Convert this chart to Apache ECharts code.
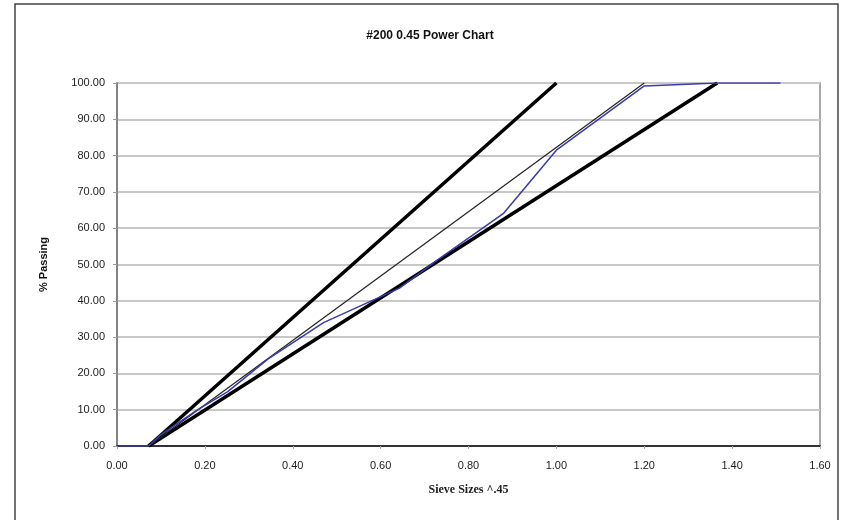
<!DOCTYPE html>
<html>
<head>
<meta charset="utf-8">
<script src="https://cdn.jsdelivr.net/npm/echarts@6/dist/echarts.min.js"></script>
<style>
  html, body { margin: 0; padding: 0; background: #fff; }
  #chart { width: 843px; height: 520px; }
</style>
</head>
<body>
<div id="chart"></div>
<script>
// sieve sizes (in) raised to 0.45
var sieveX = [0, 0.072, 0.099, 0.135, 0.184, 0.252, 0.344, 0.470, 0.643, 0.732, 0.879, 1.000, 1.200, 1.366, 1.510];
// % passing of the gradation (blue)
var passing = [0, 0, 3, 6, 10, 15, 24, 34, 43.5, 51.5, 64, 81.5, 99.2, 100, 100];

// control lines: [x, y] end points
var upperLimit = [[0.072, 0], [1.000, 100]];
var lowerLimit = [[0.072, 0], [1.366, 100]];
var maxDensity = [[0.072, 0], [1.200, 100]];

var yTicks = [0, 10, 20, 30, 40, 50, 60, 70, 80, 90, 100];

var gradation = sieveX.map(function (x, i) { return [x, passing[i]]; });

var chart = echarts.init(document.getElementById('chart'));

var option = {
    backgroundColor: '#fff',
    animation: false,
    title: {
        text: '#200 0.45 Power Chart',
        left: 425,
        top: 25,
        textAlign: 'center',
        textStyle: { fontFamily: 'Liberation Sans', fontSize: 12, fontWeight: 'bold', color: '#111' }
    },
    graphic: [{
        type: 'rect',
        shape: { x: 15, y: 4, width: 823, height: 540 },
        style: { fill: 'none', stroke: '#444', lineWidth: 1.5 },
        silent: true
    }],
    grid: {
        left: 117, top: 83, right: 23, bottom: 74,
        show: true,
        borderColor: '#8c8c8c',
        borderWidth: 1.5
    },
    xAxis: {
        type: 'value',
        min: 0, max: 1.6, interval: 0.2,
        name: 'Sieve Sizes ^.45',
        nameLocation: 'middle',
        nameGap: 38,
        nameTextStyle: { fontFamily: 'Liberation Serif', fontSize: 12, fontWeight: 'bold', color: '#222' },
        axisLine: { lineStyle: { color: '#333', width: 2 } },
        axisTick: { show: true, length: 3, lineStyle: { color: '#aaa' } },
        axisLabel: {
            margin: 14,
            fontFamily: 'Liberation Sans', fontSize: 11, color: '#222',
            formatter: function (v) { return v.toFixed(2); }
        },
        splitLine: { show: false }
    },
    yAxis: {
        type: 'value',
        min: yTicks[0], max: yTicks[yTicks.length - 1], interval: 10,
        name: '% Passing',
        nameLocation: 'middle',
        nameGap: 68,
        nameTextStyle: { fontFamily: 'Liberation Sans', fontSize: 11, fontWeight: 'bold', color: '#111' },
        axisLine: { show: true, lineStyle: { color: '#777', width: 1.5 } },
        axisTick: { show: true, length: 4, lineStyle: { color: '#999' } },
        axisLabel: {
            margin: 12,
            fontFamily: 'Liberation Sans', fontSize: 11, color: '#222',
            formatter: function (v) { return v.toFixed(2); }
        },
        splitLine: { show: true, lineStyle: { color: '#c8c8c8', width: 2 } }
    },
    series: [
        {
            name: 'Upper',
            type: 'line',
            data: upperLimit,
            symbol: 'none',
            lineStyle: { color: '#000', width: 3.5 }
        },
        {
            name: 'Lower',
            type: 'line',
            data: lowerLimit,
            symbol: 'none',
            lineStyle: { color: '#000', width: 3.5 }
        },
        {
            name: 'Max Density',
            type: 'line',
            data: maxDensity,
            symbol: 'none',
            lineStyle: { color: '#222', width: 1.2 }
        },
        {
            name: 'Gradation',
            type: 'line',
            data: gradation,
            symbol: 'none',
            lineStyle: { color: '#3a3aa8', width: 1.5 }
        }
    ]
};

chart.setOption(option);
</script>
</body>
</html>
